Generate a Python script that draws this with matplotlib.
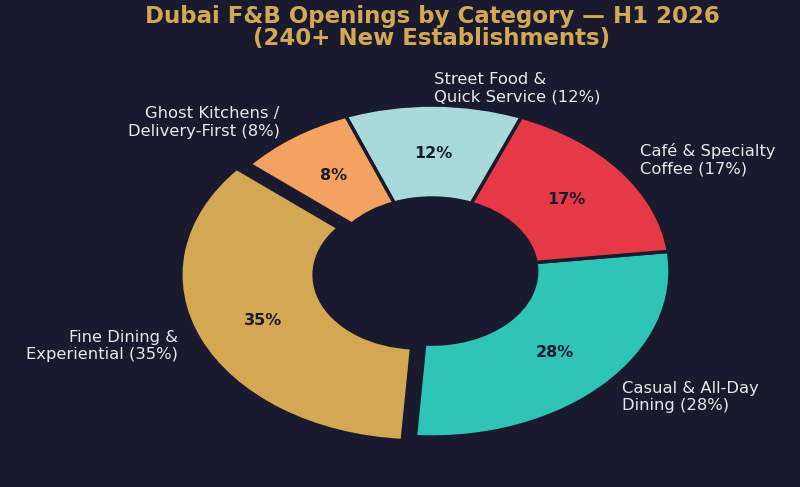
import matplotlib
matplotlib.use("Agg")
import matplotlib.pyplot as plt

# data
categories = ["Fine Dining &\nExperiential", "Casual & All-Day\nDining", "Café & Specialty\nCoffee",
              "Street Food &\nQuick Service", "Ghost Kitchens /\nDelivery-First"]
shares = [35, 28, 17, 12, 8]
colors = ["#D4A853", "#2EC4B6", "#E63946", "#A8DADC", "#F4A261"]
explode = [0.06, 0, 0, 0, 0]

bg = "#1a1a2e"

fig = plt.figure(figsize=(8, 4.87), dpi=100, facecolor=bg)
ax = fig.add_axes([0, 0, 1, 1])
ax.set_facecolor(bg)

labels = [f"{c} ({s}%)" for c, s in zip(categories, shares)]
wedges, texts, autotexts = ax.pie(
    shares, labels=labels, colors=colors, explode=explode,
    startangle=140, counterclock=True, autopct="%1.0f%%",
    pctdistance=0.71, labeldistance=1.1,
    wedgeprops=dict(width=0.56, edgecolor=bg, linewidth=2.5),
    textprops=dict(color="#e8e8e8", fontsize=11.8),
)
for t in autotexts:
    t.set_color(bg)
    t.set_fontweight("bold")
    t.set_fontsize(11.5)

# the chart is stretched sideways, so the axes are not kept square
ax.set_aspect("auto")
ax.set_xlim(-1.815, 1.546)
ax.set_ylim(-1.301, 1.633)
ax.axis("off")

fig.text(0.54, 0.99, "Dubai F&B Openings by Category — H1 2026\n(240+ New Establishments)",
         ha="center", va="top", color="#D4A853", fontsize=16.5, fontweight="bold",
         linespacing=0.95)

fig.savefig("out.png", dpi=100, facecolor=bg)
